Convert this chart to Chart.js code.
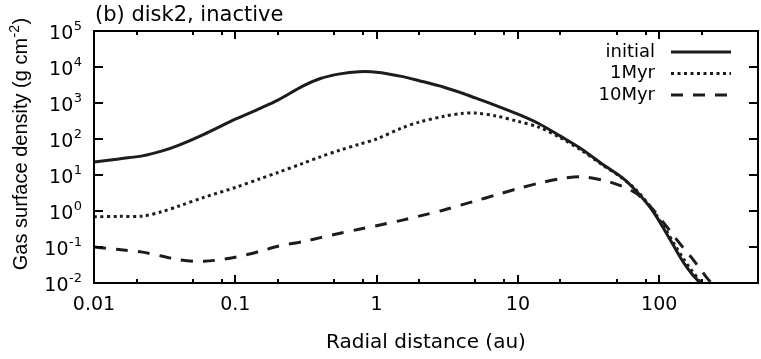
<!DOCTYPE html>
<html><head><meta charset="utf-8">
<script src="https://cdn.jsdelivr.net/npm/chart.js@4.4.1/dist/chart.umd.min.js"></script>
<style>html,body{margin:0;padding:0;background:#fff;}#wrap{width:761px;height:359px;}</style>
</head><body><div id="wrap"><canvas id="c" width="761" height="359"></canvas></div>
<script>
// ---- data ----
const radius = [0.01, 0.015, 0.022, 0.03, 0.04, 0.06, 0.1, 0.15, 0.2, 0.3, 0.4, 0.55, 0.75, 1, 1.5, 2, 3, 4, 5, 7, 10, 14, 20, 28, 40, 55, 70, 90, 110, 130, 150, 170, 190, 210, 230, 250];
const initial = [23, 28, 34, 46, 68, 135, 355, 710, 1200, 2950, 4800, 6450, 7400, 7200, 5500, 4170, 2750, 1900, 1380, 850, 490, 270, 120, 54, 19.5, 8.3, 3.3, 1.0, 0.28, 0.089, 0.035, 0.018, 0.011, 0.0056, 0.0025, 0.001];
const myr1 = [0.69, 0.71, 0.72, 0.95, 1.38, 2.4, 4.5, 7.9, 11.7, 21, 32, 49, 71, 100, 200, 295, 427, 513, 525, 437, 309, 214, 108, 49, 18.6, 8.1, 3.55, 1.07, 0.32, 0.107, 0.044, 0.022, 0.0126, 0.0066, 0.0033, 0.0016];
const myr10 = [0.1, 0.085, 0.072, 0.056, 0.044, 0.040, 0.052, 0.076, 0.105, 0.141, 0.182, 0.24, 0.31, 0.39, 0.55, 0.72, 1.07, 1.48, 1.9, 2.8, 4.2, 5.9, 7.9, 8.9, 7.2, 4.8, 2.95, 1.12, 0.42, 0.18, 0.089, 0.05, 0.028, 0.0166, 0.0107, 0.0071];
const seriesLabels = ['initial', '1Myr', '10Myr'];
const xTickValues = [0.01, 0.1, 1, 10, 100];
const xTickLabels = ['0.01', '0.1', '1', '10', '100'];
const xMinorValues = [0.02, 0.05, 0.08, 0.2, 0.5, 0.8, 2, 5, 8, 20, 50, 80, 200];
const yTickExponents = [-2, -1, 0, 1, 2, 3, 4, 5];
const yTickValues = [0.01, 0.1, 1, 10, 100, 1000, 10000, 100000];
const titleText = '(b) disk2, inactive';
const xTitleText = 'Radial distance (au)';
const yTitleMain = 'Gas surface density (g cm';
const yTitleSup = '-2';
const yTitleEnd = ')';

const LINE = '#1c1c1c';
const FONT = '"DejaVu Sans", sans-serif';

function pts(ys) { return radius.map((r, i) => ({x: r, y: ys[i]})); }

const dsStyle = [
  {borderDash: []},
  {borderDash: [3, 3.5]},
  {borderDash: [12, 10]}
];
const seriesData = [initial, myr1, myr10];

const decor = {
  id: 'decor',
  afterDraw(chart) {
    const {ctx, chartArea: a} = chart;
    const x = chart.scales.x, y = chart.scales.y;
    ctx.save();
    // frame
    ctx.strokeStyle = '#000';
    ctx.lineWidth = 2;
    ctx.strokeRect(a.left, a.top, a.right - a.left, a.bottom - a.top);
    // ticks (inward, mirrored)
    ctx.beginPath();
    xTickValues.forEach(v => {
      const px = Math.round(x.getPixelForValue(v));
      ctx.moveTo(px, a.bottom); ctx.lineTo(px, a.bottom - 8);
      ctx.moveTo(px, a.top); ctx.lineTo(px, a.top + 8);
    });
    xMinorValues.forEach(v => {
      const px = Math.round(x.getPixelForValue(v));
      ctx.moveTo(px, a.bottom); ctx.lineTo(px, a.bottom - 4);
      ctx.moveTo(px, a.top); ctx.lineTo(px, a.top + 4);
    });
    yTickValues.forEach(v => {
      const py = Math.round(y.getPixelForValue(v));
      ctx.moveTo(a.left, py); ctx.lineTo(a.left + 9, py);
      ctx.moveTo(a.right, py); ctx.lineTo(a.right - 9, py);
    });
    ctx.stroke();

    // y tick labels: 10 with superscript exponent
    ctx.fillStyle = '#000';
    ctx.textBaseline = 'alphabetic';
    ctx.textAlign = 'left';
    yTickValues.forEach((v, i) => {
      const py = y.getPixelForValue(v);
      const sup = String(yTickExponents[i]);
      ctx.font = '13px ' + FONT;
      const w2 = ctx.measureText(sup).width;
      ctx.font = '19px ' + FONT;
      const w1 = ctx.measureText('10').width;
      const right = a.left - 12;
      ctx.fillText('10', right - w2 - w1 - 0.5, py + 8);
      ctx.font = '13px ' + FONT;
      ctx.fillText(sup, right - w2, py - 1);
    });

    // title
    ctx.font = '21px ' + FONT;
    ctx.fillText(titleText, a.left + 1, 21);

    // y axis title (rotated)
    ctx.save();
    ctx.translate(27, 144);
    ctx.rotate(-Math.PI / 2);
    const f1 = '20px "Liberation Sans", Arial, sans-serif';
    const f2 = '14px "Liberation Sans", Arial, sans-serif';
    ctx.font = f1; const wm = ctx.measureText(yTitleMain).width; const we = ctx.measureText(yTitleEnd).width;
    ctx.font = f2; const ws = ctx.measureText(yTitleSup).width;
    let sx = -(wm + ws + we + 1) / 2;
    ctx.font = f1; ctx.fillText(yTitleMain, sx, 0); sx += wm + 0.5;
    ctx.font = f2; ctx.fillText(yTitleSup, sx, -8); sx += ws + 0.5;
    ctx.font = f1; ctx.fillText(yTitleEnd, sx, 0);
    ctx.restore();

    // legend (inside, top right)
    const rows = [52, 73.5, 95];
    chart.data.datasets.forEach((ds, i) => {
      ctx.font = '18px ' + FONT;
      ctx.textAlign = 'right';
      ctx.textBaseline = 'middle';
      ctx.fillStyle = '#000';
      ctx.fillText(ds.label, 655, rows[i]);
      ctx.beginPath();
      ctx.setLineDash(ds.borderDash);
      ctx.lineWidth = ds.borderWidth;
      ctx.strokeStyle = ds.borderColor;
      ctx.lineCap = 'butt';
      ctx.moveTo(671, rows[i]); ctx.lineTo(731, rows[i]);
      ctx.stroke();
      ctx.setLineDash([]);
    });
    ctx.restore();
  }
};

new Chart(document.getElementById('c'), {
  type: 'line',
  data: {
    datasets: seriesLabels.map((lab, i) => ({
      label: lab,
      data: pts(seriesData[i]),
      borderColor: LINE,
      borderWidth: 3,
      borderDash: dsStyle[i].borderDash,
      borderCapStyle: 'butt',
      pointRadius: 0,
      fill: false,
      tension: 0.3,
      clip: 0
    }))
  },
  options: {
    responsive: false,
    animation: false,
    devicePixelRatio: 1,
    layout: {padding: {top: 31, right: 3, left: 0, bottom: 0}},
    plugins: {legend: {display: false}, title: {display: false}, tooltip: {enabled: false}},
    scales: {
      x: {
        type: 'logarithmic', min: 0.01, max: 500,
        grid: {display: false, drawTicks: false},
        border: {display: false},
        afterBuildTicks: s => { s.ticks = xTickValues.map(v => ({value: v})); },
        afterFit: s => { s.height = 76; },
        ticks: {
          padding: 11, color: '#000', maxRotation: 0, autoSkip: false,
          font: {family: FONT, size: 19},
          callback: (v, i) => xTickLabels[i]
        },
        title: {display: true, text: xTitleText, color: '#000', font: {family: FONT, size: 20}, padding: {top: 0, bottom: 4}}
      },
      y: {
        type: 'logarithmic', min: 0.01, max: 100000,
        grid: {display: false, drawTicks: false},
        border: {display: false},
        afterBuildTicks: s => { s.ticks = yTickValues.map(v => ({value: v})); },
        afterFit: s => { s.width = 94; },
        ticks: {display: false}
      }
    }
  },
  plugins: [decor]
});
</script>
</body></html>
